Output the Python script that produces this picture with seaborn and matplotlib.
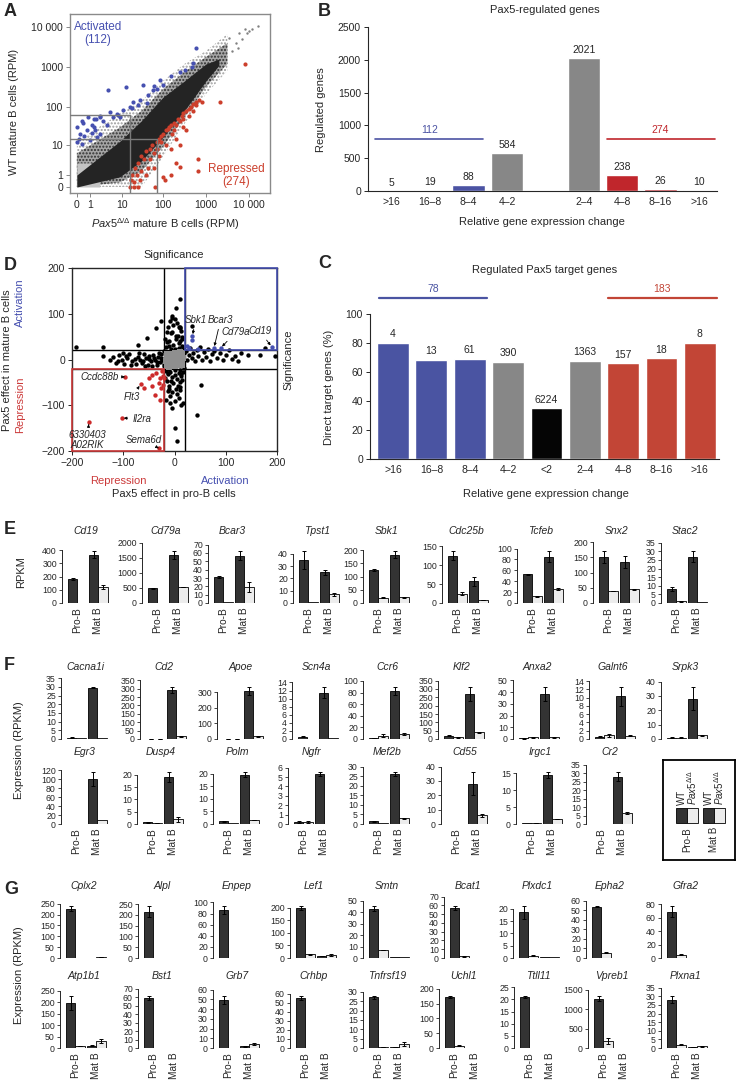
import numpy as np
import pandas as pd
import matplotlib
matplotlib.use("Agg")
import matplotlib.pyplot as plt
from matplotlib.patches import Rectangle
import seaborn as sns

# =================== DATA ===================
# ---- Panel A (RPM) ----
a_ticks = [0, 1, 10, 100, 1000, 10000]
a_ticklabels = ["0", "1", "10", "100", "1000", "10 000"]
a_cloud_ko = [0, 9, 31, 99, 315, 1000, 3160]
a_cloud_out_lo = [0, 0, 0, 4.6, 37, 210, 810]
a_cloud_out_hi = [13, 67, 143, 450, 1200, 2550, 6700]
a_cloud_mid_lo = [0, 0.3, 1.5, 9, 55, 320, 1200]
a_cloud_mid_hi = [6, 30, 80, 280, 750, 1800, 4000]
a_core_ko = [0, 9, 31, 99, 315, 1000, 2000]
a_core_lo = [0, 0.8, 3.5, 16.5, 80, 450, 1100]
a_core_hi = [1, 13, 45, 175, 450, 1200, 1600]
a_low_ko = [0, 1, 2.4]
a_low_hi = [3, 3, 2.5]
a_sparse = [(5000, 4000), (6000, 7000), (8000, 9000), (4000, 2500), (3500, 5500), (7000, 5000),
            (9000, 7000), (10000, 8000), (12000, 9000), (16000, 11000), (5500, 3000)]
a_activated = [(0.0, 12), (0.1, 15), (0.2, 20), (0.3, 11), (0.5, 18), (0.7, 25), (1.0, 14), (1.2, 22),
               (1.5, 30), (1.9, 17), (0.4, 40), (1.6, 25), (0.0, 30), (0.3, 45), (0.8, 55), (1.5, 50),
               (1.2, 35), (1.8, 48), (2.4, 20), (2.4, 60), (3, 45), (4, 35), (2.4, 56), (4.9, 75),
               (7.4, 68), (9, 56), (11, 84), (16, 100), (19.5, 134), (28, 150), (41, 123), (58, 268),
               (4.4, 268), (13, 310), (34, 355), (84, 475), (100, 355), (250, 760), (324, 845),
               (466, 1000), (500, 1240), (600, 2950), (18, 95), (25, 110), (45, 200), (60, 330),
               (70, 280), (150, 600), (6, 55), (8, 62)]
a_repressed = [(16, 0), (17, 0.5), (18, 1), (20, 0), (22, 2), (24, 1), (26, 3), (28, 0.5), (30, 5),
               (35, 4), (40, 7), (45, 2), (50, 8), (55, 10), (60, 6), (70, 12), (80, 15), (90, 18),
               (100, 20), (120, 25), (140, 30), (160, 20), (180, 40), (200, 35), (220, 50), (250, 45),
               (280, 60), (300, 70), (350, 80), (400, 90), (450, 100), (500, 120), (600, 110),
               (700, 150), (800, 130), (120, 10), (150, 8), (200, 15), (80, 5), (60, 2), (40, 1),
               (100, 0.8), (250, 10), (180, 25), (300, 30), (130, 28), (90, 12), (70, 8), (65, 0),
               (110, 0.5), (150, 1), (200, 3), (350, 25), (20, 0.3), (25, 0), (30, 1.5), (50, 4),
               (2100, 134), (8000, 1200), (250, 2.2), (650, 4), (650, 1.5), (150, 35), (400, 60),
               (500, 80), (600, 130), (300, 50)]
a_thr_act = (16, 62)    # (max Pax5-ko RPM, min WT RPM)
a_thr_rep = (72, 15)    # (min Pax5-ko RPM, max WT RPM)
a_n_act, a_n_rep = 112, 274

# ---- Panel B ----
b_keys = ["a16", "a8", "a4", "a2", "r2", "r4", "r8", "r16"]
b_order = ["a16", "a8", "a4", "a2", "gap", "r2", "r4", "r8", "r16"]
b_ticklabels = [">16", "16\u20138", "8\u20134", "4\u20132", "", "2\u20134", "4\u20138", "8\u201316", ">16"]
b_counts = [5, 19, 88, 584, 2021, 238, 26, 10]
b_class = ["act", "act", "act", "ns", "ns", "rep", "rep", "rep"]
b_total_act, b_total_rep = 112, 274

# ---- Panel C ----
c_keys = ["a16", "a8", "a4", "a2", "lt2", "r2", "r4", "r8", "r16"]
c_ticklabels = [">16", "16\u20138", "8\u20134", "4\u20132", "<2", "2\u20134", "4\u20138", "8\u201316", ">16"]
c_pct = [80, 68.5, 69, 67, 35, 67.5, 66, 69.5, 80]
c_counts = [4, 13, 61, 390, 6224, 1363, 157, 18, 8]
c_class = ["act", "act", "act", "ns", "none", "ns", "rep", "rep", "rep"]
c_total_act, c_total_rep = 78, 183

# ---- Panel D ----
d_black = [
    # vertical arm
    (-15, 60), (-12, 72), (-8, 85), (-4, 95), (0, 88), (4, 80), (8, 70), (12, 62), (15, 50), (-18, 45),
    (-14, 38), (-10, 30), (-6, 24), (-2, 32), (2, 44), (6, 52), (10, 40), (14, 30), (17, 22), (-17, 28),
    (-16, -25), (-12, -32), (-8, -28), (-4, -38), (0, -34), (4, -42), (8, -30), (12, -36), (16, -28),
    (-18, -40), (-14, -48), (-10, -58), (-6, -46), (-2, -52), (2, -64), (6, -58), (10, -50), (14, -44),
    (-12, -68), (-4, -72), (4, -76), (10, -66), (0, -90), (-8, -80), (-4, 60), (3, 52), (9, 35),
    (-10, 40), (14, 45), (-13, -30), (12, -32), (11, -60), (-11, -65), (8, -85), (-8, -95), (12, -100),
    (-2, 75), (10, 70), (-7, 58), (5, 20), (-4, 18), (8, 26), (-10, -20), (10, -22), (0, 24), (0, -22),
    (-20, 18), (18, -18), (-20, -15), (19, 14),
    # horizontal arms
    (-120, 5), (-115, -8), (-108, 10), (-102, -2), (-98, -10), (-92, 4), (-88, 12), (-82, -4),
    (-76, -10), (-72, 6), (-67, 0), (-64, -8), (-60, 12), (-56, 3), (-52, -11), (-49, 8), (-45, -4),
    (-42, 10), (-38, -2), (-35, -12), (-32, 6), (-29, -6), (-26, 11), (-24, 0), (-21, -9), (-100, 14),
    (-84, -13), (-70, 14), (-58, -14), (-44, -14), (-30, 15), (-125, 0), (-110, -3), (-95, 8),
    (-78, 2), (-62, -3), (-50, 1), (-40, 4), (-34, -6), (-27, 3),
    (22, 18), (25, -2), (28, 10), (31, 25), (34, 4), (37, 14), (40, -4), (43, 20), (46, 8), (50, 28),
    (53, 0), (57, 16), (61, 6), (65, 22), (69, -3), (73, 12), (78, 18), (83, 4), (88, 14), (94, -2),
    (100, 10), (106, 20), (112, 2), (118, 8), (124, -4), (130, 14), (143, 10), (166, 10), (176, 25),
    (197, 8), (-193, 27), (-140, 27), (-140, 8),
    # outliers
    (10, 132), (2, 112), (-4, 91), (-37, 69), (-27, 84), (35, 73), (-53, 47), (-72, 32), (10, 69),
    (-4, -106), (0, -150), (4, -178), (43, -121), (51, -56), (16, -95), (-17, -88)]
d_grey = [(0, 0), (5, 3), (-5, -3), (10, -5), (-10, 5), (3, -10), (-3, 10), (12, 8), (-12, -8),
          (8, -12), (-8, 12), (15, 0), (-15, 0), (0, 15), (0, -15), (6, 6), (-6, -6), (14, -12),
          (-14, 12), (16, 4), (-16, -4), (14, 14), (-14, -14), (10, 16), (-10, -16)]
d_blue = [(25, 30), (29, 25), (35, 43), (35, 51), (77, 25), (90, 25), (190, 27), (45, 24)]
d_red = [(-97, -38), (-66, -54), (-167, -137), (-103, -128), (-31, -194),
         (-43, -33), (-36, -30), (-29, -40), (-23, -36), (-31, -51), (-43, -58), (-27, -62),
         (-22, -55), (-38, -77), (-29, -88), (-20, -40), (-49, -40), (-59, -62), (-25, -25)]
d_threshold = 20
# gene: (point x, point y, label x, label y)
d_labels = {"Sbk1": (35, 51, 41, 87), "Bcar3": (77, 25, 90, 87), "Cd79a": (90, 25, 120, 60),
            "Cd19": (190, 27, 166, 63), "Ccdc88b": (-97, -38, -146, -38), "Flt3": (-66, -54, -83, -82),
            "Il2ra": (-103, -128, -64, -129), "Sema6d": (-31, -194, -59, -175),
            "6330403\nA02RIK": (-167, -137, -170, -175)}

# ---- Panels E, F, G (RPKM) ----
e_genes = ["Cd19", "Cd79a", "Bcar3", "Tpst1", "Sbk1", "Cdc25b", "Tcfeb", "Snx2", "Stac2"]
e_wt_pro = [180, 480, 31, 35, 125, 125, 53, 150, 8]
e_ko_pro = [1, 12, 1, 1, 20, 25, 12, 40, 1]
e_wt_mat = [365, 1580, 57, 25, 183, 58, 85, 135, 27]
e_ko_mat = [120, 530, 19, 7, 22, 8, 25, 45, 0.3]
e_err_wt_pro = [5, 20, 1, 7, 3, 12, 1, 20, 1.2]
e_err_ko_pro = [0, 0, 0, 0, 1, 5, 1, 1, 0.2]
e_err_wt_mat = [25, 130, 5, 2, 12, 12, 10, 20, 3]
e_err_ko_mat = [15, 10, 6, 1, 2, 1, 2, 2, 0]
e_tick_top = [400, 2000, 70, 40, 200, 150, 100, 200, 35]
e_tick_step = [100, 500, 10, 10, 50, 50, 20, 50, 5]

f1_genes = ["Cacna1i", "Cd2", "Apoe", "Scn4a", "Ccr6", "Klf2", "Anxa2", "Galnt6", "Srpk3"]
f1_wt_pro = [0.8, 2, 2, 0.6, 2, 20, 0.5, 0.6, 1]
f1_ko_pro = [0.3, 2, 2, 0.1, 6, 10, 1.5, 0.9, 1]
f1_wt_mat = [29.5, 290, 305, 11.5, 82, 270, 38, 10.3, 28]
f1_ko_mat = [0.3, 15, 18, 0.2, 9, 40, 1.5, 0.8, 2.5]
f1_err_wt_pro = [0.1, 0.5, 0.5, 0.1, 0.5, 3, 0.1, 0.1, 0.3]
f1_err_ko_pro = [0, 0.5, 0.5, 0, 2, 1, 0.5, 0.3, 0.2]
f1_err_wt_mat = [0.3, 18, 25, 1.3, 7, 40, 6, 2.2, 8]
f1_err_ko_mat = [0, 3, 3, 0, 2, 4, 0.5, 0.1, 0.3]
f1_tick_top = [35, 350, 300, 14, 100, 350, 50, 14, 40]
f1_tick_step = [5, 50, 100, 2, 20, 50, 10, 2, 10]

f2_genes = ["Egr3", "Dusp4", "Polm", "Ngfr", "Mef2b", "Cd55", "Irgc1", "Cr2"]
f2_wt_pro = [0.5, 0.7, 1, 0.2, 1.5, 0.3, 0.2, 0.1]
f2_ko_pro = [0.5, 0.5, 0.3, 0.2, 0.3, 0.3, 0.3, 0.1]
f2_wt_mat = [100, 19, 19.5, 5.3, 26, 28, 14.5, 28]
f2_ko_mat = [10, 2, 1.5, 0.05, 3, 6, 1.5, 6.5]
f2_err_wt_pro = [0, 0.2, 0.2, 0.1, 0.2, 0, 0, 0]
f2_err_ko_pro = [0, 0.1, 0, 0.1, 0, 0, 0.1, 0]
f2_err_wt_mat = [15, 2, 1, 0.2, 1, 8, 0.8, 2.5]
f2_err_ko_mat = [0, 1, 0.1, 0, 0.3, 1, 0.1, 0.5]
f2_tick_top = [120, 20, 20, 6, 30, 40, 15, 35]
f2_tick_step = [20, 5, 5, 1, 5, 10, 5, 5]

g1_genes = ["Cplx2", "Alpl", "Enpep", "Lef1", "Smtn", "Bcat1", "Plxdc1", "Epha2", "Gfra2"]
g1_wt_pro = [228, 215, 86, 197, 43, 57, 18.5, 53.5, 69]
g1_ko_pro = [1, 1, 0.5, 14, 7, 2, 1, 5.5, 5]
g1_wt_mat = [2, 1, 0.5, 7, 1, 0.5, 0.3, 0.3, 0.3]
g1_ko_mat = [3, 1, 0.5, 12, 1, 0.5, 0.3, 0.3, 0.3]
g1_err_wt_pro = [10, 25, 7, 8, 2, 2, 2.5, 0.5, 8]
g1_err_ko_pro = [0, 0, 0, 3, 0.3, 0.3, 0.1, 0.3, 1]
g1_err_wt_mat = [0, 0, 0, 1, 0, 0, 0, 0, 0]
g1_err_ko_mat = [0.5, 0, 0, 4, 0, 0, 0, 0, 0]
g1_tick_top = [250, 250, 100, 200, 50, 70, 20, 60, 80]
g1_tick_step = [50, 50, 20, 50, 10, 10, 5, 10, 20]

g2_genes = ["Atp1b1", "Bst1", "Grb7", "Crhbp", "Tnfrsf19", "Uchl1", "Ttll11", "Vpreb1", "Plxna1"]
g2_wt_pro = [195, 59, 49, 55, 27, 173, 21, 1270, 28]
g2_ko_pro = [8, 0.5, 0.3, 0.3, 0.6, 8, 0.2, 180, 1.8]
g2_wt_mat = [10, 0.3, 2, 0.2, 0.5, 1, 0.1, 5, 0.5]
g2_ko_mat = [30, 0.3, 4, 0.2, 2, 1, 0.1, 5, 1]
g2_err_wt_pro = [30, 2, 4, 2, 0.6, 2, 0.3, 60, 2]
g2_err_ko_pro = [1, 0, 0, 0, 0.2, 0.5, 0, 70, 0.3]
g2_err_wt_mat = [1, 0, 0.5, 0, 0.1, 0, 0, 0, 0.1]
g2_err_ko_mat = [8, 0, 1, 0, 1, 0, 0, 0, 0.3]
g2_tick_top = [250, 70, 60, 60, 30, 200, 25, 1500, 35]
g2_tick_step = [50, 10, 10, 10, 5, 50, 5, 500, 5]

stages = ["Pro-B", "Mat B"]
genotypes = ["WT", "KO"]

# =================== STYLE / LAYOUT ===================
sns.set_theme(style="ticks")
plt.rcParams["font.family"] = ["Liberation Sans", "DejaVu Sans"]
plt.rcParams["mathtext.fontset"] = "custom"
plt.rcParams["mathtext.rm"] = "Liberation Sans"
plt.rcParams["mathtext.it"] = "Liberation Sans:italic"
plt.rcParams["axes.linewidth"] = 0.8
plt.rcParams["hatch.linewidth"] = 1.0

BLUE = "#4b53a3"
RED = "#c0262c"
RED_C = "#c24536"
DARK = "#333333"
LIGHT = "#ececec"
PT_BLUE = "#4650b0"
PT_RED = "#cc3f2c"

FW, FH = 736, 1082
fig = plt.figure(figsize=(FW / 100, FH / 100), dpi=100)


def rect(l, t, w, h):
    return [l / FW, 1 - (t + h) / FH, w / FW, h / FH]


def ftext(x, y, s, **kw):
    fig.text(x / FW, 1 - y / FH, s, **kw)


for letter, (x, y) in {"A": (4, 12), "B": (318, 12), "D": (4, 265), "C": (318, 263),
                       "E": (4, 530), "F": (4, 665), "G": (4, 889)}.items():
    ftext(x, y, letter, fontsize=13, fontweight="bold", ha="left", va="center")

# =================== PANEL A ===================
axA = fig.add_axes(rect(70, 14, 200, 179))


def fwd(v):
    return np.log10(np.clip(np.asarray(v, dtype=float), -0.99, None) + 1)


def inv(u):
    return 10 ** np.asarray(u, dtype=float) - 1


axA.fill_between(a_cloud_ko, a_cloud_out_lo, a_cloud_out_hi, facecolor="white", edgecolor="#9a9a9a",
                 hatch=".....", lw=0, zorder=1)
axA.fill_between(a_cloud_ko, a_cloud_mid_lo, a_cloud_mid_hi, facecolor="#a5a5a5", edgecolor="#303030",
                 hatch=".....", lw=0, zorder=1.5)
axA.fill_between(a_low_ko, 0, a_low_hi, facecolor="#c4c4c4", lw=0, zorder=1.7)
axA.fill_between(a_core_ko, a_core_lo, a_core_hi, facecolor="#242424", lw=0, zorder=2)
df_sp = pd.DataFrame(a_sparse, columns=["ko", "wt"])
df_act = pd.DataFrame(a_activated, columns=["ko", "wt"])
df_rep = pd.DataFrame(a_repressed, columns=["ko", "wt"])
sns.scatterplot(data=df_sp, x="ko", y="wt", color="#808080", s=3, linewidth=0, ax=axA, zorder=3)
sns.scatterplot(data=df_act, x="ko", y="wt", color=PT_BLUE, s=9, linewidth=0, ax=axA, zorder=4)
sns.scatterplot(data=df_rep, x="ko", y="wt", color=PT_RED, s=9, linewidth=0, ax=axA, zorder=4)
axA.set_xscale("function", functions=(fwd, inv))
axA.set_yscale("function", functions=(fwd, inv))
xlo, xhi = inv(-0.16), inv(4.49)
ylo, yhi = inv(-0.15), inv(4.33)
axA.set_xlim(xlo, xhi)
axA.set_ylim(ylo, yhi)
axA.plot([xlo, a_thr_act[0], a_thr_act[0]], [a_thr_act[1], a_thr_act[1], ylo], color="#7a7a7a", lw=1, zorder=5)
axA.plot([xlo, a_thr_rep[0], a_thr_rep[0]], [a_thr_rep[1], a_thr_rep[1], ylo], color="#7a7a7a", lw=1, zorder=5)
axA.set_xticks(a_ticks)
axA.set_xticklabels(a_ticklabels)
axA.set_yticks(a_ticks)
axA.set_yticklabels(a_ticklabels)
axA.minorticks_off()
axA.tick_params(labelsize=7.5, length=3, width=0.7, color="#888888", pad=2)
for s in axA.spines.values():
    s.set_color("#8a8a8a")
    s.set_linewidth(1.0)
axA.set_xlabel("")
axA.set_ylabel("")
axA.text(0.14, 0.89, f"Activated\n({a_n_act})", transform=axA.transAxes, color=PT_BLUE,
         fontsize=8.5, ha="center", va="center", linespacing=1.1)
axA.text(0.83, 0.1, f"Repressed\n({a_n_rep})", transform=axA.transAxes, color=PT_RED,
         fontsize=8.5, ha="center", va="center", linespacing=1.1)
ftext(165, 224, r"$\mathit{Pax5}^{\Delta/\Delta}$ mature B cells (RPM)", fontsize=8, ha="center", va="center")
ftext(14, 112, "WT mature B cells (RPM)", fontsize=8, ha="center", va="center", rotation=90)

# =================== PANEL B ===================
axB = fig.add_axes(rect(368, 27, 349, 164))
dfB = pd.DataFrame({"key": b_keys, "count": b_counts, "cls": b_class})
cls_col_b = {"act": BLUE, "ns": "#878787", "rep": RED}
palB = {k: cls_col_b[c] for k, c in zip(b_keys, b_class)}
sns.barplot(data=dfB, x="key", y="count", hue="key", order=b_order, hue_order=b_keys, palette=palB,
            width=0.84, dodge=False, legend=False, saturation=1, errorbar=None, ax=axB)
for k, n in zip(b_keys, b_counts):
    axB.text(b_order.index(k), n + 45, str(n), ha="center", va="bottom", fontsize=7.5)
axB.set_xlim(-0.62, 8.47)
axB.set_ylim(0, 2500)
axB.set_yticks(range(0, 2501, 500))
axB.set_xticks(range(len(b_order)))
axB.set_xticklabels(b_ticklabels)
axB.tick_params(axis="x", length=0, labelsize=7.5, pad=4)
axB.tick_params(axis="y", length=3, width=0.7, labelsize=7.5, pad=2)
sns.despine(ax=axB)
axB.spines["left"].set_bounds(0, 2500)
axB.set_xlabel("")
axB.set_ylabel("")
axB.plot([-0.43, 2.38], [800, 800], color=BLUE, lw=1.2)
axB.text(0.98, 860, str(b_total_act), color=BLUE, ha="center", va="bottom", fontsize=7.5)
axB.plot([5.6, 8.42], [800, 800], color=RED, lw=1.2)
axB.text(6.99, 860, str(b_total_rep), color=RED, ha="center", va="bottom", fontsize=7.5)
ftext(545, 10, "Pax5-regulated genes", fontsize=8, ha="center", va="center")
ftext(542, 222, "Relative gene expression change", fontsize=8, ha="center", va="center")
ftext(321, 110, "Regulated genes", fontsize=8, ha="center", va="center", rotation=90)

# =================== PANEL C ===================
axC = fig.add_axes(rect(370, 314, 349, 145))
dfC = pd.DataFrame({"key": c_keys, "pct": c_pct, "cls": c_class})
cls_col_c = {"act": "#4a54a2", "ns": "#878787", "none": "#050505", "rep": RED_C}
palC = {k: cls_col_c[c] for k, c in zip(c_keys, c_class)}
sns.barplot(data=dfC, x="key", y="pct", hue="key", order=c_keys, palette=palC, width=0.83,
            dodge=False, legend=False, saturation=1, errorbar=None, ax=axC)
for i, (p, n) in enumerate(zip(c_pct, c_counts)):
    axC.text(i, p + 2.5, str(n), ha="center", va="bottom", fontsize=7.5)
axC.set_xlim(-0.6, 8.5)
axC.set_ylim(0, 100)
axC.set_yticks(range(0, 101, 20))
axC.set_xticks(range(len(c_keys)))
axC.set_xticklabels(c_ticklabels)
axC.tick_params(axis="x", length=0, labelsize=7.5, pad=4)
axC.tick_params(axis="y", length=3, width=0.7, labelsize=7.5, pad=2)
sns.despine(ax=axC)
axC.spines["left"].set_bounds(0, 100)
axC.set_xlabel("")
axC.set_ylabel("")
axC.plot([-0.36, 2.45], [111, 111], color="#4a54a2", lw=1.6, clip_on=False)
axC.text(1.05, 113.5, str(c_total_act), color="#4a54a2", ha="center", va="bottom", fontsize=7.5)
axC.plot([5.6, 8.45], [111, 111], color=RED_C, lw=1.6, clip_on=False)
axC.text(7.0, 113.5, str(c_total_rep), color=RED_C, ha="center", va="bottom", fontsize=7.5)
ftext(545, 270, "Regulated Pax5 target genes", fontsize=8, ha="center", va="center")
ftext(546, 494, "Relative gene expression change", fontsize=8, ha="center", va="center")
ftext(329, 387, "Direct target genes (%)", fontsize=8, ha="center", va="center", rotation=90)

# =================== PANEL D ===================
axD = fig.add_axes(rect(72, 268, 205, 183))
t = d_threshold
for v in (-t, t):
    axD.axhline(v, color="black", lw=1, zorder=1)
    axD.axvline(v, color="black", lw=1, zorder=1)
dfg = pd.DataFrame(d_grey, columns=["pro", "mat"])
dfk = pd.DataFrame(d_black, columns=["pro", "mat"])
dfbl = pd.DataFrame(d_blue, columns=["pro", "mat"])
dfr = pd.DataFrame(d_red, columns=["pro", "mat"])
sns.scatterplot(data=dfk, x="pro", y="mat", color="black", s=10, linewidth=0, ax=axD, zorder=3)
sns.scatterplot(data=dfg, x="pro", y="mat", color="#8f8f8f", s=16, linewidth=0, marker="s", ax=axD, zorder=4)
sns.scatterplot(data=dfbl, x="pro", y="mat", color=PT_BLUE, s=10, linewidth=0, ax=axD, zorder=5)
sns.scatterplot(data=dfr, x="pro", y="mat", color="#cc2a2a", s=10, linewidth=0, ax=axD, zorder=5)
axD.add_patch(Rectangle((t, t), 200 - t, 200 - t, fill=False, edgecolor=PT_BLUE, lw=1.2,
                        zorder=6, clip_on=False))
axD.add_patch(Rectangle((-200, -200), 200 - t, 200 - t, fill=False, edgecolor="#cc3a3a", lw=1.2,
                        zorder=6, clip_on=False))
for g, (px_, py_, lx, ly) in d_labels.items():
    axD.annotate(g, xy=(px_, py_), xytext=(lx, ly), fontsize=7, style="italic", ha="center",
                 va="center", zorder=7, linespacing=1.0,
                 arrowprops=dict(arrowstyle="-|>", lw=0.6, color="black", mutation_scale=4,
                                 shrinkA=1, shrinkB=1.5))
axD.set_xlim(-200, 200)
axD.set_ylim(-200, 200)
axD.set_xticks([-200, -100, 0, 100, 200])
axD.set_yticks([-200, -100, 0, 100, 200])
axD.tick_params(labelsize=7.5, length=3, width=0.7, pad=2)
axD.set_xlabel("")
axD.set_ylabel("")
for s in axD.spines.values():
    s.set_linewidth(1.0)
ftext(174, 255, "Significance", fontsize=8, ha="center", va="center")
ftext(288, 360, "Significance", fontsize=8, ha="center", va="center", rotation=90)
ftext(118, 481, "Repression", fontsize=8, ha="center", va="center", color="#cc3a3a")
ftext(225, 481, "Activation", fontsize=8, ha="center", va="center", color=PT_BLUE)
ftext(174, 494, "Pax5 effect in pro-B cells", fontsize=8, ha="center", va="center")
ftext(20, 303, "Activation", fontsize=8, ha="center", va="center", rotation=90, color=PT_BLUE)
ftext(20, 405, "Repression", fontsize=8, ha="center", va="center", rotation=90, color="#cc3a3a")
ftext(7, 360, "Pax5 effect in mature B cells", fontsize=8, ha="center", va="center", rotation=90)

# =================== PANELS E, F, G ===================
W, H = 48, 62
pal_geno = {"WT": DARK, "KO": LIGHT}


def gene_chart(left, bottom, gene, vals, errs, ttop, tstep, show_x):
    ax = fig.add_axes(rect(left, bottom - H, W, H))
    df = pd.DataFrame({"stage": ["Pro-B", "Pro-B", "Mat B", "Mat B"],
                       "genotype": ["WT", "KO", "WT", "KO"],
                       "rpkm": vals})
    sns.barplot(data=df, x="stage", y="rpkm", hue="genotype", order=stages, hue_order=genotypes,
                palette=pal_geno, width=0.9, errorbar=None, edgecolor="black", linewidth=0.6,
                saturation=1, legend=False, ax=ax)
    err_map = {("Pro-B", "WT"): errs[0], ("Pro-B", "KO"): errs[1],
               ("Mat B", "WT"): errs[2], ("Mat B", "KO"): errs[3]}
    for cont, g in zip(ax.containers, genotypes):
        for patch in cont.patches:
            xc = patch.get_x() + patch.get_width() / 2
            st = stages[int(round(xc))]
            e = err_map[(st, g)]
            if e > 0:
                ax.errorbar(xc, patch.get_height(), yerr=e, fmt="none", ecolor="black",
                            elinewidth=0.7, capsize=1.6, capthick=0.7, zorder=5)
    top = max(v + e for v, e in zip(vals, errs)) * 1.2
    ax.set_ylim(0, max(top, ttop))
    ax.set_xlim(-0.736, 1.55)
    ticks = np.arange(0, ttop + tstep / 2, tstep)
    ax.set_yticks(ticks)
    ax.set_yticklabels([f"{v:g}" for v in ticks])
    sns.despine(ax=ax, bottom=True)
    ax.spines["left"].set_bounds(0, ttop)
    ax.spines["left"].set_linewidth(0.7)
    ax.tick_params(axis="y", length=2.5, width=0.6, labelsize=6.3, pad=1.2)
    ax.tick_params(axis="x", length=0, labelsize=7.3, pad=3)
    ax.set_xlabel("")
    ax.set_ylabel("")
    if show_x:
        ax.set_xticks([0, 1])
        ax.set_xticklabels(stages, rotation=90, va="top", ha="center")
    else:
        ax.set_xticklabels([])
    ax.set_title(gene, fontsize=7.5, style="italic", pad=5)


rows = [
    (e_genes, e_wt_pro, e_ko_pro, e_wt_mat, e_ko_mat, e_err_wt_pro, e_err_ko_pro, e_err_wt_mat,
     e_err_ko_mat, e_tick_top, e_tick_step, [62, 142, 208, 293, 363, 442, 517, 593, 661], 603, True),
    (f1_genes, f1_wt_pro, f1_ko_pro, f1_wt_mat, f1_ko_mat, f1_err_wt_pro, f1_err_ko_pro, f1_err_wt_mat,
     f1_err_ko_mat, f1_tick_top, f1_tick_step, [61, 140, 217, 292, 363, 438, 513, 589, 661], 739, False),
    (f2_genes, f2_wt_pro, f2_ko_pro, f2_wt_mat, f2_ko_mat, f2_err_wt_pro, f2_err_ko_pro, f2_err_wt_mat,
     f2_err_ko_mat, f2_tick_top, f2_tick_step, [61, 137, 213, 288, 363, 441, 516, 586], 824, True),
    (g1_genes, g1_wt_pro, g1_ko_pro, g1_wt_mat, g1_ko_mat, g1_err_wt_pro, g1_err_ko_pro, g1_err_wt_mat,
     g1_err_ko_mat, g1_tick_top, g1_tick_step, [60, 138, 213, 290, 363, 444, 513, 586, 661], 958, False),
    (g2_genes, g2_wt_pro, g2_ko_pro, g2_wt_mat, g2_ko_mat, g2_err_wt_pro, g2_err_ko_pro, g2_err_wt_mat,
     g2_err_ko_mat, g2_tick_top, g2_tick_step, [60, 138, 213, 290, 363, 439, 514, 588, 661], 1048, True),
]
for (genes, wp, kp, wm, km, ewp, ekp, ewm, ekm, ttop, tstep, xs, bottom, show_x) in rows:
    for i, g in enumerate(genes):
        gene_chart(xs[i], bottom, g, [wp[i], kp[i], wm[i], km[i]],
                   [ewp[i], ekp[i], ewm[i], ekm[i]], ttop[i], tstep[i], show_x)

ftext(21, 572, "RPKM", fontsize=8, ha="center", va="center", rotation=90)
ftext(19, 750, "Expression (RPKM)", fontsize=8, ha="center", va="center", rotation=90)
ftext(19, 975, "Expression (RPKM)", fontsize=8, ha="center", va="center", rotation=90)

# legend box
axL = fig.add_axes(rect(663, 760, 72, 100))
axL.set_xlim(0, 72)
axL.set_ylim(100, 0)
axL.set_xticks([])
axL.set_yticks([])
for s in axL.spines.values():
    s.set_linewidth(1.3)
    s.set_color("black")
for x0, st in [(13, "Pro-B"), (40, "Mat B")]:
    axL.add_patch(Rectangle((x0, 48), 11, 15, facecolor=DARK, edgecolor="black", lw=0.6))
    axL.add_patch(Rectangle((x0 + 11, 48), 11, 15, facecolor=LIGHT, edgecolor="black", lw=0.6))
    axL.text(x0 + 5.5, 45, "WT", rotation=90, ha="center", va="bottom", fontsize=7)
    axL.text(x0 + 16.5, 45, r"$\mathit{Pax5}^{\Delta/\Delta}$", rotation=90, ha="center",
             va="bottom", fontsize=7)
    axL.text(x0 + 11, 67, st, rotation=90, ha="center", va="top", fontsize=7)

fig.savefig("out.png", dpi=100)
